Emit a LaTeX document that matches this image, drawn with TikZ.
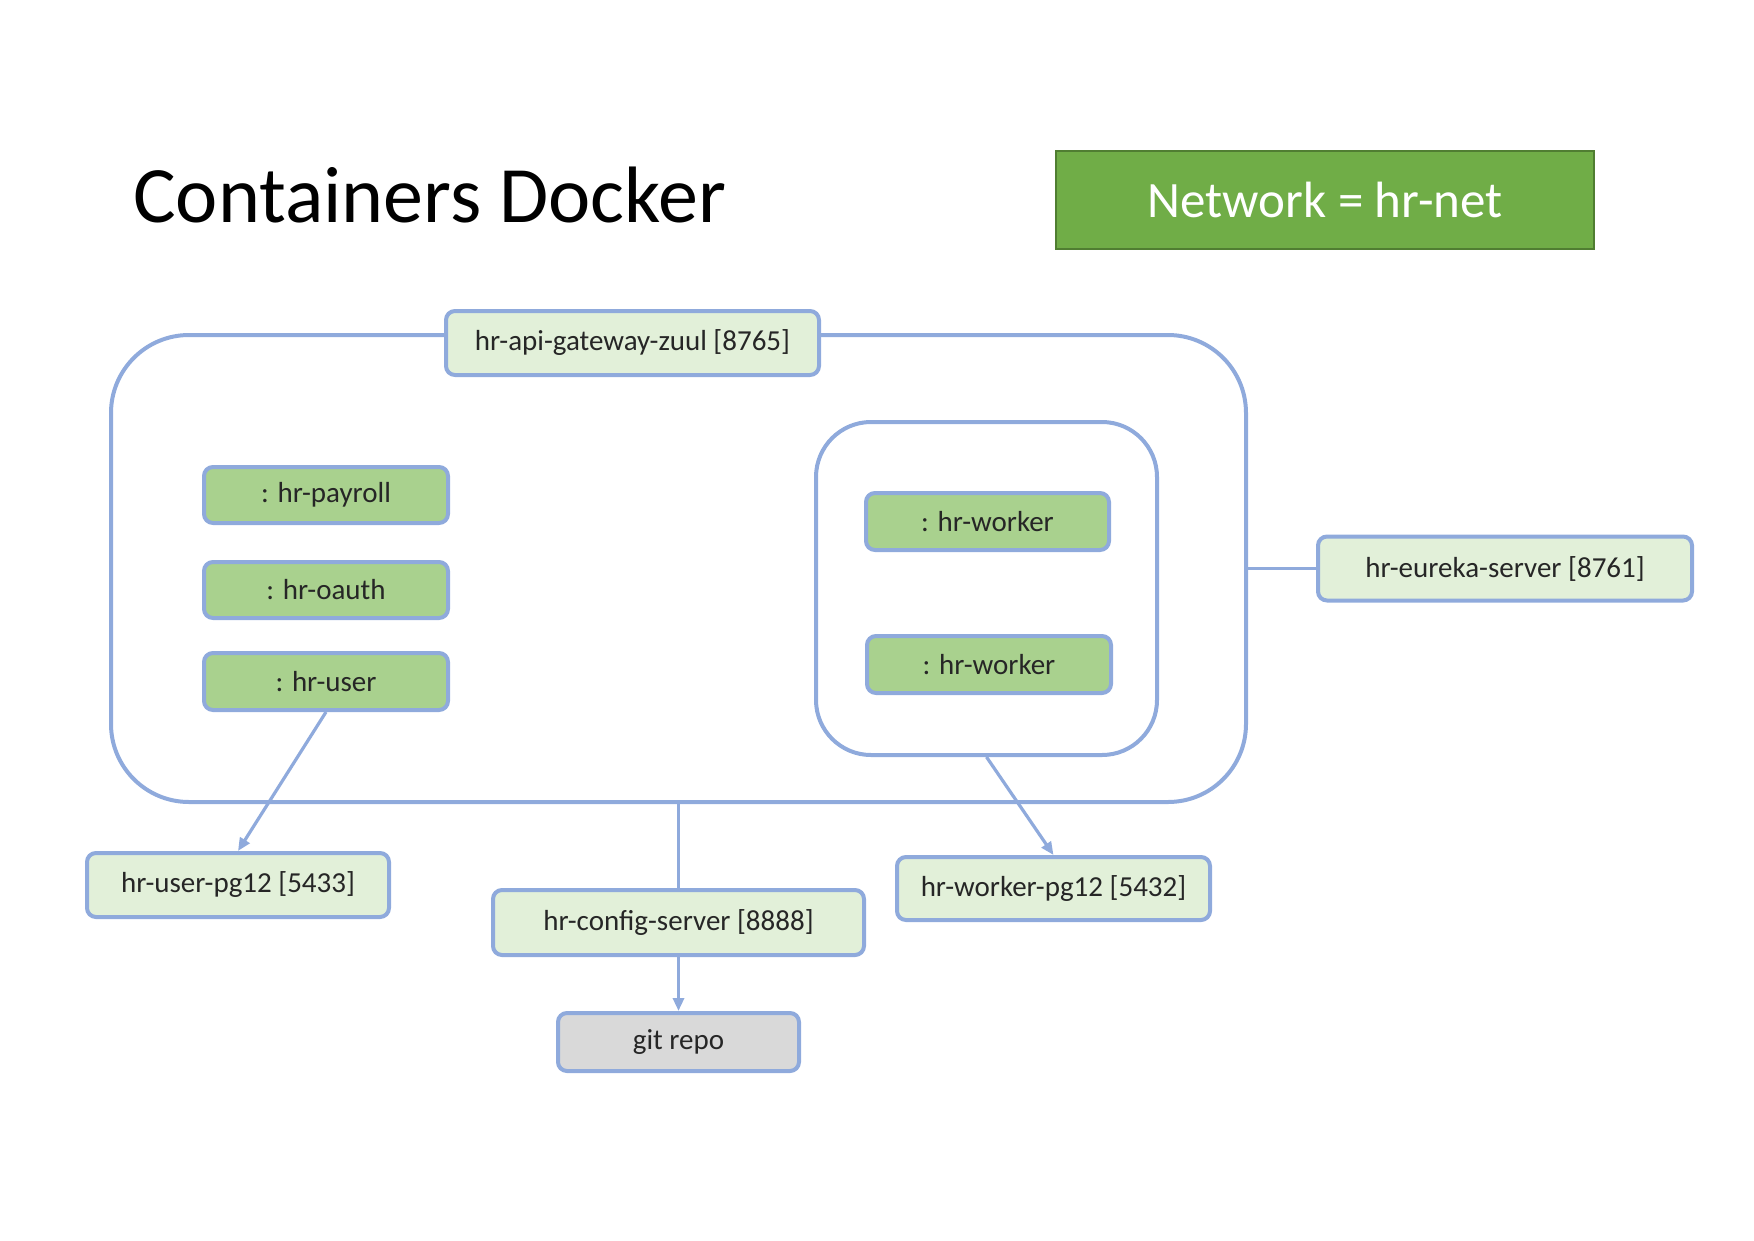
\documentclass[tikz,border=0pt]{standalone}
\usepackage{fontspec}
\setmainfont{Carlito}
\usetikzlibrary{arrows.meta}
\definecolor{bordblue}{HTML}{8FAADC}
\definecolor{darkgreen}{HTML}{A9D18E}
\definecolor{lightgreen}{HTML}{E2F0D9}
\definecolor{greybox}{HTML}{D9D9D9}
\definecolor{netgreen}{HTML}{70AD47}
\definecolor{netborder}{HTML}{507E32}
\definecolor{txt}{HTML}{262626}
\tikzset{
  boxtext/.style={font=\fontsize{29}{34}\selectfont, text=txt},
  svc/.style={boxtext, draw=bordblue, line width=4pt, rounded corners=9pt, fill=#1, inner sep=0pt},
  container/.style={draw=bordblue, line width=4pt, inner sep=0pt},
  conn/.style={draw=bordblue, line width=3.2pt},
  arr/.style={conn, -{Triangle[length=13pt,width=11pt]}},
}
\begin{document}
\begin{tikzpicture}[x=1pt,y=-1pt]
\useasboundingbox (0,0) rectangle (1754,1240);
% title
\node[anchor=base west, inner sep=0pt, font=\fontsize{80}{96}\selectfont] (title) at (133,222) {Containers Docker};
% network
\node[draw=netborder, line width=1.5pt, fill=netgreen, minimum width=538pt, minimum height=98pt, inner sep=0pt, text=white, font=\fontsize{51}{60}\selectfont] (net) at (1325,200) {Network = hr-net};
% containers
\node[container, rounded corners=78pt, minimum width=1135pt, minimum height=467pt] (outer) at (678.5,568.5) {};
\node[container, rounded corners=55pt, minimum width=341pt, minimum height=333pt] (inner) at (986.5,588.5) {};
% services
\node[svc=lightgreen, minimum width=373pt, minimum height=64pt] (gw) at (632.5,343) {hr-api-gateway-zuul [8765]};
\node[svc=darkgreen, minimum width=244pt, minimum height=56pt] (payroll) at (326,495) {: hr-payroll};
\node[svc=darkgreen, minimum width=244pt, minimum height=56pt] (oauth) at (326,590) {: hr-oauth};
\node[svc=darkgreen, minimum width=244pt, minimum height=57pt] (user) at (326,681.5) {: hr-user};
\node[svc=darkgreen, minimum width=243pt, minimum height=57pt] (worker1) at (987.5,521.5) {: hr-worker};
\node[svc=darkgreen, minimum width=244pt, minimum height=57pt] (worker2) at (989,664.5) {: hr-worker};
\node[svc=lightgreen, minimum width=374pt, minimum height=64pt] (eureka) at (1505,568.5) {hr-eureka-server [8761]};
\node[svc=lightgreen, minimum width=302pt, minimum height=64pt] (userpg) at (238,885) {hr-user-pg12 [5433]};
\node[svc=lightgreen, minimum width=371pt, minimum height=65pt] (config) at (678.5,922.5) {hr-config-server [8888]};
\node[svc=greybox, minimum width=241pt, minimum height=58pt] (git) at (678.5,1042) {git repo};
\node[svc=lightgreen, minimum width=313pt, minimum height=63pt] (workerpg) at (1053.5,888.5) {hr-worker-pg12 [5432]};
% connectors
\draw[arr] (user.south) -- (userpg.north);
\draw[arr] (inner.south) -- (workerpg.north);
\draw[conn] (outer.south) -- (config.north);
\draw[arr] (config.south) -- (git.north);
\draw[conn] (outer.east) -- (eureka.west);
\end{tikzpicture}
\end{document}
